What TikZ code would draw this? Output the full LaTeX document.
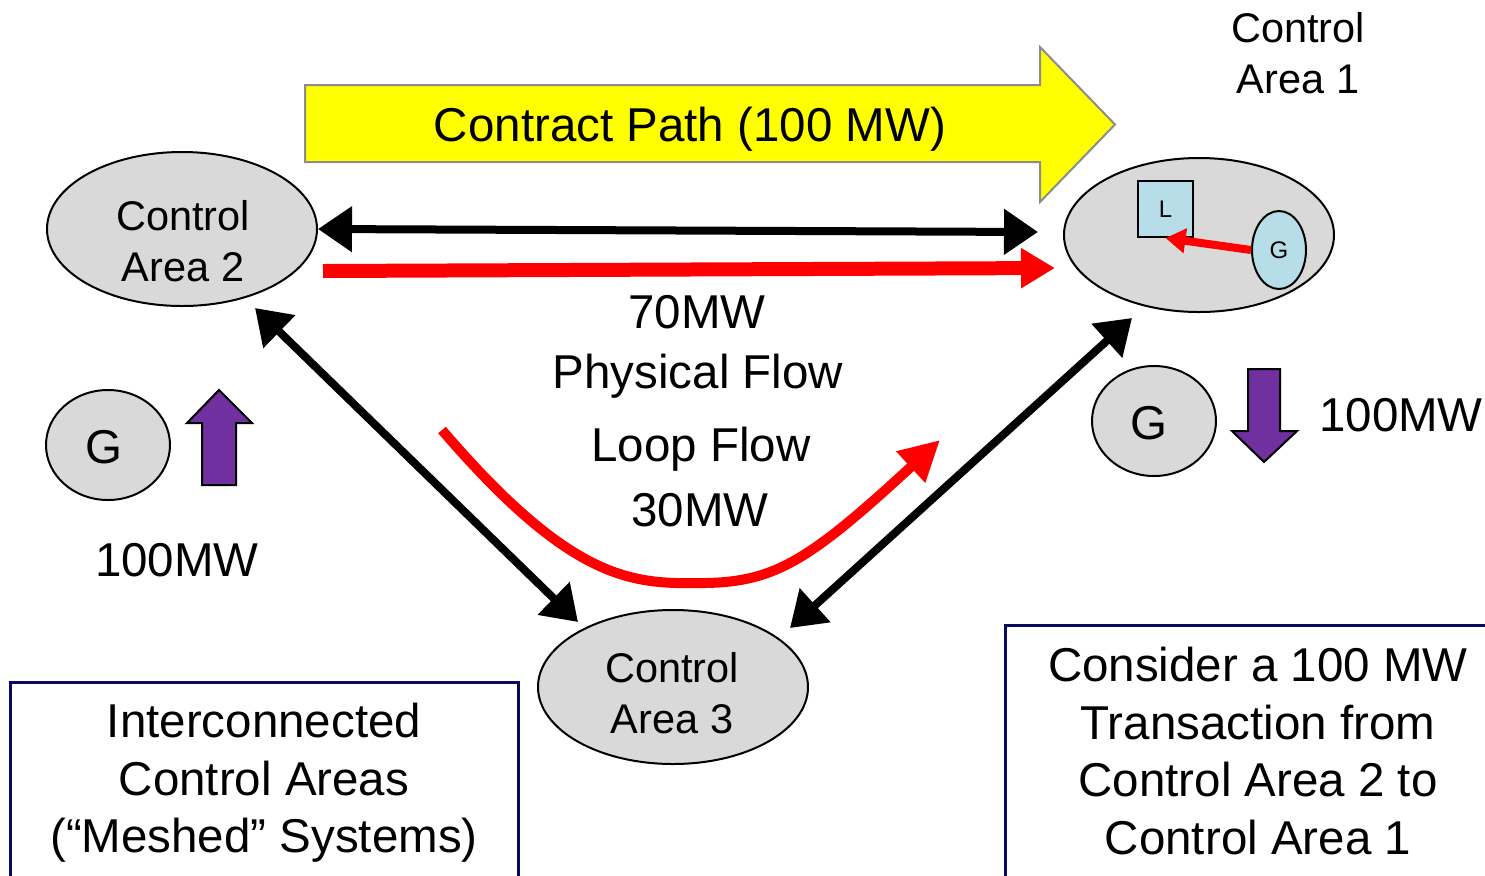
\documentclass[tikz,border=0pt]{standalone}
\usepackage{fontspec}
\setmainfont{Liberation Sans}
\usetikzlibrary{arrows.meta,shapes.geometric}
\definecolor{areagray}{HTML}{D9D9D9}
\definecolor{lightblue}{HTML}{B7DEE8}
\definecolor{purp}{HTML}{7030A0}
\definecolor{navy}{HTML}{0A0A5A}
\definecolor{yel}{HTML}{FFFF00}
\definecolor{yelborder}{HTML}{8C8C8C}
\tikzset{
  area/.style={ellipse, draw=black, line width=1pt, fill=areagray, inner sep=0pt,
    minimum width=135pt, minimum height=77pt},
  gen/.style={ellipse, draw=black, line width=1pt, fill=areagray, inner sep=0pt,
    minimum width=62pt, minimum height=55pt},
  bigtext/.style={align=center, inner sep=0pt, font=\fontsize{23.75pt}{28.75pt}\selectfont},
  midtext/.style={align=center, inner sep=0pt, font=\fontsize{20.75pt}{25.5pt}\selectfont},
  blackflow/.style={line width=4pt, {Triangle[length=17pt,width=22pt]}-{Triangle[length=17pt,width=22pt]}},
  redflow/.style={red, line width=7pt, -{Triangle[length=17pt,width=19pt]}},
  loopflow/.style={red, line width=5pt, -{Triangle[length=20pt,width=20pt]}},
  notebox/.style={draw=navy, line width=1.5pt},
  purparrow/.style={draw=black, line width=1pt, fill=purp},
}
\begin{document}
\begin{tikzpicture}[x=0.5pt,y=-0.5pt]
\useasboundingbox (0,0) rectangle (1485,875);

% contract path arrow
\draw[draw=yelborder, line width=1pt, fill=yel]
  (305,85) -- (1040,85) -- (1040,47) -- (1115,124.5) -- (1040,202) -- (1040,162) -- (305,162) -- cycle;
\node[bigtext] (cp) at (690,129) {Contract Path (100 MW)};

% control areas
\node[area] (a2) at (182,229) {};
\node[midtext] (a2lab) at (183,241) {Control\\Area 2};
\node[area] (a1) at (1199,235) {};
\node[area] (a3) at (673,687) {};
\node[midtext] (a3lab) at (672,693) {Control\\Area 3};
\node[midtext] (a1lab) at (1298,53) {Control\\Area 1};

% inside area 1
\node[draw=black, line width=1pt, fill=lightblue, minimum width=27.5pt, minimum height=28pt, inner sep=0pt,
  font=\fontsize{12pt}{14pt}\selectfont] (L) at (1165.5,209) {L};
\node[ellipse, draw=black, line width=1pt, fill=lightblue, minimum width=27pt, minimum height=39pt, inner sep=0pt,
  font=\fontsize{12pt}{14pt}\selectfont] (g1s) at (1279,250) {G};
\draw[red, line width=4pt, -{Triangle[length=10pt,width=12pt]}] (g1s.west) -- (L.south);

% generators
\node[gen] (gl) at (108,445) {};
\node[bigtext] (gllab) at (104,447) {G};
\node[gen] (gr) at (1154,421) {};
\node[bigtext] (grlab) at (1149,423) {G};

% purple arrows
\draw[purparrow] (202,485) -- (202,423) -- (187,423) -- (219,390) -- (252,423) -- (236,423) -- (236,485) -- cycle;
\draw[purparrow] (1248,369) -- (1280,369) -- (1280,431) -- (1297,431) -- (1264,462) -- (1232,431) -- (1248,431) -- cycle;

\node[bigtext] (mwl) at (177,560) {100MW};
\node[bigtext] (mwr) at (1401,415) {100MW};

% connectors
\coordinate (e21) at (1038,232);
\coordinate (r2s) at (323,271);
\coordinate (r2e) at (1055,268);
\coordinate (b2s) at (255,308);
\coordinate (b2e) at (578,622);
\coordinate (b1s) at (1132,318);
\coordinate (b1e) at (790,628);
\coordinate (ls) at (442,430);
\coordinate (lm) at (705,583);
\coordinate (le) at (940,440);

\draw[blackflow] (a2.east) -- (e21);
\draw[redflow] (r2s) -- (r2e);
\draw[blackflow] (b2s) -- (b2e);
\draw[blackflow] (b1s) -- (b1e);
\draw[loopflow] (ls) .. controls (575,585) and (635,584) .. (lm)
  .. controls (775,582) and (810,560) .. (le);

\node[bigtext] (t70) at (697,312) {70MW};
\node[bigtext] (tpf) at (698,376) {Physical Flow};
\node[bigtext] (tlf) at (701,449) {Loop Flow};
\node[bigtext] (t30) at (700,510) {30MW};

% note boxes
\draw[notebox] (10,900) -- (10,682) -- (518,682) -- (518,900);
\node[bigtext] (leftnote) at (264,783) {Interconnected\\Control Areas\\(“Meshed” Systems)};
\draw[notebox] (1005,900) -- (1005,625) -- (1500,625);
\node[bigtext] (rightnote) at (1258,751) {Consider a 100 MW\\Transaction from\\Control Area 2 to\\Control Area 1};
\end{tikzpicture}
\end{document}
